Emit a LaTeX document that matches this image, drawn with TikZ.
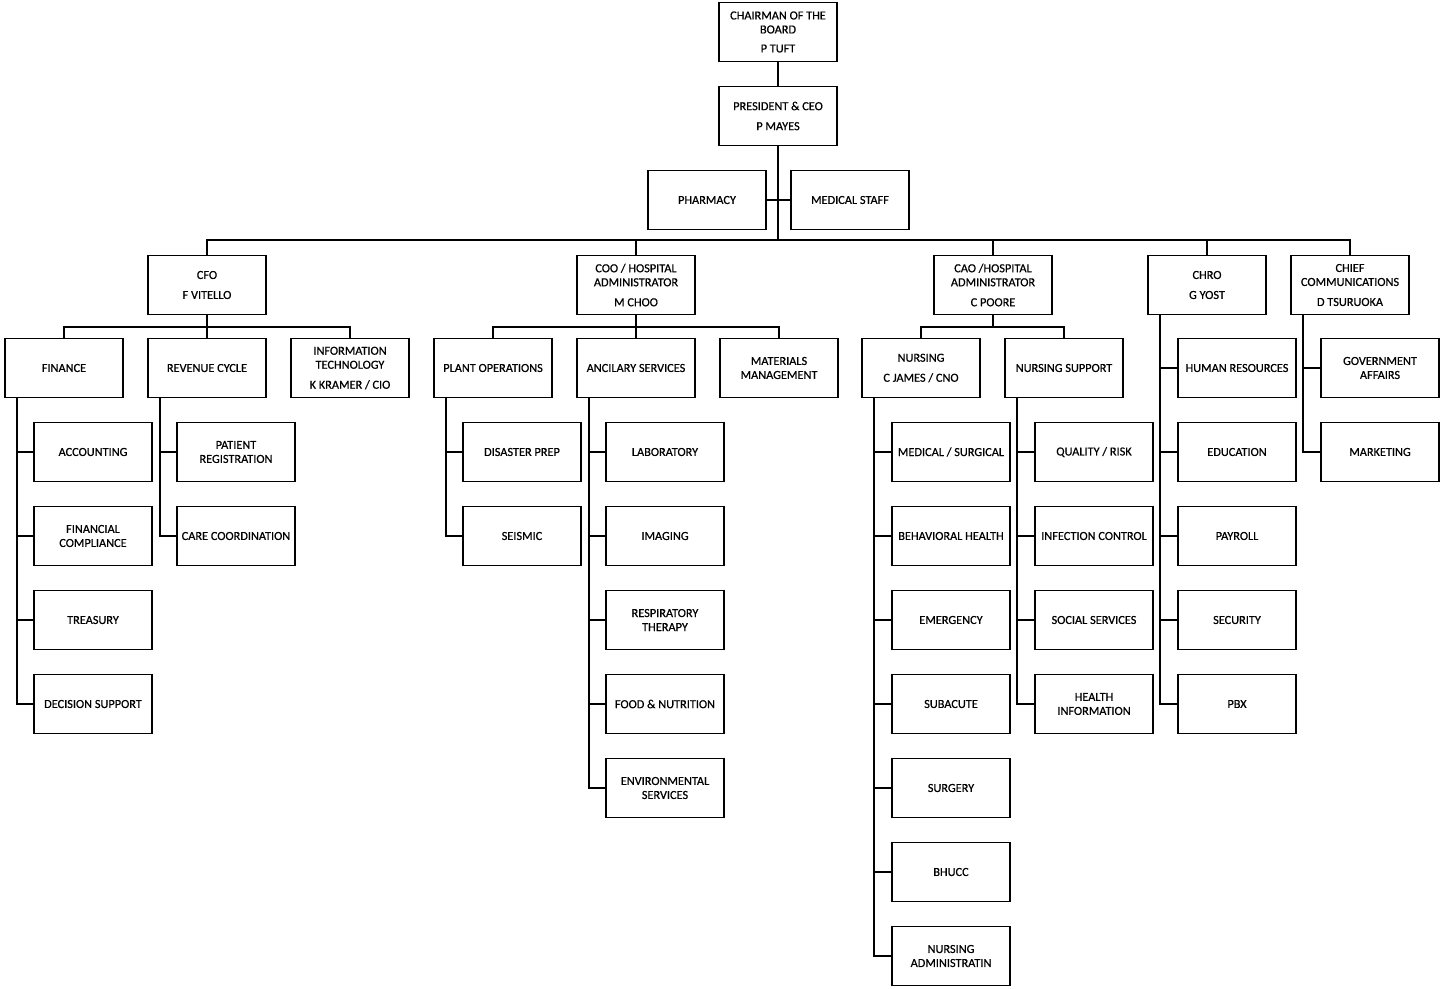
\documentclass[tikz,border=0pt]{standalone}
\usepackage{fontspec}
\setmainfont{Carlito}[FakeBold=0.6]
\usetikzlibrary{calc}
\begin{document}
\begin{tikzpicture}[x=1pt,y=-1pt,
  box/.style={draw, line width=1.8pt, minimum width=118pt, minimum height=59pt, inner sep=1pt, align=center, font=\fontsize{12.3}{14}\selectfont},
  conn/.style={line width=1.8pt}]
\useasboundingbox (0,0) rectangle (1442,988);
% top
\node[box] (chair) at (778,32) {CHAIRMAN OF THE\\BOARD\\[5pt]P TUFT};
\node[box] (ceo) at (778,116) {PRESIDENT \& CEO\\[6pt]P MAYES};
\node[box] (pharm) at (707,200) {PHARMACY};
\node[box] (med) at (850,200) {MEDICAL STAFF};
% level 2
\node[box] (cfo) at (207,285) {CFO\\[6pt]F VITELLO};
\node[box] (coo) at (636,285) {COO / HOSPITAL\\ADMINISTRATOR\\[6pt]M CHOO};
\node[box] (cao) at (993,285) {CAO /HOSPITAL\\ADMINISTRATOR\\[6pt]C POORE};
\node[box] (chro) at (1207,285) {CHRO\\[6pt]G YOST};
\node[box] (comm) at (1350,285) {CHIEF\\COMMUNICATIONS\\[6pt]D TSURUOKA};
% level 3
\node[box] (fin) at (64,368) {FINANCE};
\node[box] (rev) at (207,368) {REVENUE CYCLE};
\node[box] (it) at (350,368) {INFORMATION\\TECHNOLOGY\\[6pt]K KRAMER / CIO};
\node[box] (plant) at (493,368) {PLANT OPERATIONS};
\node[box] (anc) at (636,368) {ANCILARY SERVICES};
\node[box] (mat) at (779,368) {MATERIALS\\MANAGEMENT};
\node[box] (nurs) at (921,368) {NURSING\\[6pt]C JAMES / CNO};
\node[box] (nsup) at (1064,368) {NURSING SUPPORT};
\node[box] (hr) at (1237,368) {HUMAN RESOURCES};
\node[box] (gov) at (1380,368) {GOVERNMENT\\AFFAIRS};
% finance children
\node[box] (acc) at (93,452) {ACCOUNTING};
\node[box] (fcomp) at (93,536) {FINANCIAL\\COMPLIANCE};
\node[box] (treas) at (93,620) {TREASURY};
\node[box] (dsup) at (93,704) {DECISION SUPPORT};
% revenue children
\node[box] (preg) at (236,452) {PATIENT\\REGISTRATION};
\node[box] (care) at (236,536) {CARE COORDINATION};
% plant children
\node[box] (dis) at (522,452) {DISASTER PREP};
\node[box] (seis) at (522,536) {SEISMIC};
% ancilary children
\node[box] (lab) at (665,452) {LABORATORY};
\node[box] (img) at (665,536) {IMAGING};
\node[box] (resp) at (665,620) {RESPIRATORY\\THERAPY};
\node[box] (food) at (665,704) {FOOD \& NUTRITION};
\node[box] (env) at (665,788) {ENVIRONMENTAL\\SERVICES};
% nursing children
\node[box] (msurg) at (951,452) {MEDICAL / SURGICAL};
\node[box] (beh) at (951,536) {BEHAVIORAL HEALTH};
\node[box] (emer) at (951,620) {EMERGENCY};
\node[box] (suba) at (951,704) {SUBACUTE};
\node[box] (surg) at (951,788) {SURGERY};
\node[box] (bhucc) at (951,872) {BHUCC};
\node[box] (nadm) at (951,956) {NURSING\\ADMINISTRATIN};
% nursing support children
\node[box] (qual) at (1094,452) {QUALITY / RISK};
\node[box] (inf) at (1094,536) {INFECTION CONTROL};
\node[box] (soc) at (1094,620) {SOCIAL SERVICES};
\node[box] (hinf) at (1094,704) {HEALTH\\INFORMATION};
% chro children
\node[box] (edu) at (1237,452) {EDUCATION};
\node[box] (pay) at (1237,536) {PAYROLL};
\node[box] (sec) at (1237,620) {SECURITY};
\node[box] (pbx) at (1237,704) {PBX};
% comm children
\node[box] (mkt) at (1380,452) {MARKETING};
% connectors top
\coordinate (bus) at (778,240);
\draw[conn] (chair) -- (ceo);
\draw[conn] (ceo.south) -- (bus);
\draw[conn] (pharm.east) -- (med.west);
\draw[conn] (cfo.north) |- (bus) -| (comm.north);
\foreach \n in {coo,cao,chro} \draw[conn] (\n.north) -- (\n.north |- bus);
% level 2 to 3
\coordinate (cfobus) at (207,327);
\draw[conn] (fin.north) |- (cfobus) -| (it.north);
\draw[conn] (cfo.south) -- (rev.north);
\coordinate (coobus) at (636,327);
\draw[conn] (plant.north) |- (coobus) -| (mat.north);
\draw[conn] (coo.south) -- (anc.north);
\coordinate (caobus) at (993,327);
\draw[conn] (nurs.north) |- (caobus) -| (nsup.north);
\draw[conn] (cao.south) -- (caobus);
% trunks
\foreach \p/\kids in {fin/{acc,fcomp,treas,dsup}, rev/{preg,care}, plant/{dis,seis}, anc/{lab,img,resp,food,env}, nurs/{msurg,beh,emer,suba,surg,bhucc,nadm}, nsup/{qual,inf,soc,hinf}, chro/{hr,edu,pay,sec,pbx}, comm/{gov,mkt}}{
  \foreach \k in \kids {
    \draw[conn] ($(\p.south west)+(12.5,0)$) |- (\k.west);
  }
}
\end{tikzpicture}
\end{document}
